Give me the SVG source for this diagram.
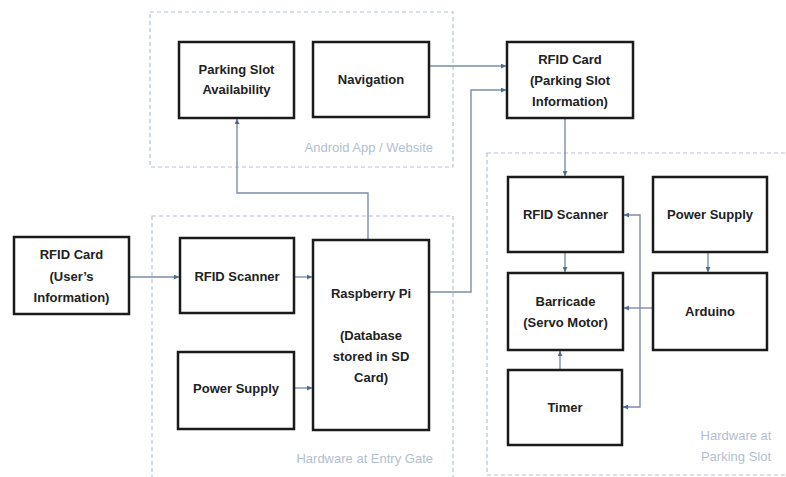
<svg xmlns="http://www.w3.org/2000/svg" width="786" height="477" viewBox="0 0 786 477">
<style>
.grp{fill:none;stroke:#b3c2d8;stroke-width:1.2;stroke-dasharray:4 3}
.glbl{font-family:"Liberation Sans",Arial,sans-serif;font-size:13px;fill:#b2bfd2}
.box{fill:#fff;stroke:#1a1a1a;stroke-width:2.5}
.t{font-family:"Liberation Sans",Arial,sans-serif;font-size:13px;font-weight:bold;fill:#222;text-anchor:middle}
.c{fill:none;stroke:#7b8eab;stroke-width:1.4}
</style>
<defs>
<marker id="ah" viewBox="0 0 10 10" refX="10" refY="5" markerWidth="5" markerHeight="5" orient="auto-start-reverse" markerUnits="userSpaceOnUse">
<path d="M0,0 L10,5 L0,10 z" fill="#4f6a93"/>
</marker>
</defs>
<rect width="786" height="477" fill="#fff"/>
<g id="group-android">
<rect class="grp" x="150" y="12" width="303" height="155"/>
<text class="glbl" x="433" y="152" text-anchor="end">Android App / Website</text>
</g>
<g id="group-entry">
<rect class="grp" x="152" y="216" width="301" height="275"/>
<text class="glbl" x="433" y="463" text-anchor="end">Hardware at Entry Gate</text>
</g>
<g id="group-parking">
<rect class="grp" x="487" y="153" width="310" height="322"/>
<text class="glbl" x="736" y="440" text-anchor="middle">Hardware at</text>
<text class="glbl" x="736" y="461" text-anchor="middle">Parking Slot</text>
</g>
<g id="connectors">
<path class="c" d="M368,240 V193 H237 V119" marker-end="url(#ah)"/>
<path class="c" d="M429,66 H506" marker-end="url(#ah)"/>
<path class="c" d="M429,292 H471 V90 H506" marker-end="url(#ah)"/>
<path class="c" d="M565,118 V176" marker-end="url(#ah)"/>
<path class="c" d="M129,277 H179" marker-end="url(#ah)"/>
<path class="c" d="M294,277 H312" marker-end="url(#ah)"/>
<path class="c" d="M294,388 H312" marker-end="url(#ah)"/>
<path class="c" d="M565,252 V272" marker-end="url(#ah)"/>
<path class="c" d="M560,370 V351" marker-end="url(#ah)"/>
<path class="c" d="M708,252 V272" marker-end="url(#ah)"/>
<path class="c" d="M653,308 H624" marker-end="url(#ah)"/>
<path class="c" d="M640,308 V215 H624" marker-end="url(#ah)"/>
<path class="c" d="M640,308 V407 H623" marker-end="url(#ah)"/>
</g>
<g id="parking-availability">
<rect class="box" x="179" y="42" width="115" height="76"/>
<text class="t" x="236.5" y="74">Parking Slot</text>
<text class="t" x="236.5" y="94">Availability</text>
</g>
<g id="navigation">
<rect class="box" x="313" y="42" width="116" height="75"/>
<text class="t" x="371" y="84">Navigation</text>
</g>
<g id="rfid-card-parking">
<rect class="box" x="507" y="42" width="126" height="76"/>
<text class="t" x="570" y="64">RFID Card</text>
<text class="t" x="570" y="85">(Parking Slot</text>
<text class="t" x="570" y="106">Information)</text>
</g>
<g id="rfid-card-user">
<rect class="box" x="14" y="237" width="115" height="77"/>
<text class="t" x="71.5" y="259">RFID Card</text>
<text class="t" x="71.5" y="281">(User’s</text>
<text class="t" x="71.5" y="302">Information)</text>
</g>
<g id="rfid-scanner-entry">
<rect class="box" x="180" y="238" width="114" height="75"/>
<text class="t" x="237" y="281">RFID Scanner</text>
</g>
<g id="power-supply-entry">
<rect class="box" x="178" y="352" width="116" height="77"/>
<text class="t" x="236" y="393">Power Supply</text>
</g>
<g id="raspberry-pi">
<rect class="box" x="313" y="240" width="116" height="190"/>
<text class="t" x="371" y="298">Raspberry Pi</text>
<text class="t" x="371" y="340">(Database</text>
<text class="t" x="371" y="361">stored in SD</text>
<text class="t" x="371" y="382">Card)</text>
</g>
<g id="rfid-scanner-parking">
<rect class="box" x="508" y="177" width="115" height="75"/>
<text class="t" x="565.5" y="219">RFID Scanner</text>
</g>
<g id="power-supply-parking">
<rect class="box" x="653" y="177" width="114" height="75"/>
<text class="t" x="710" y="219">Power Supply</text>
</g>
<g id="barricade">
<rect class="box" x="508" y="273" width="115" height="77"/>
<text class="t" x="565.5" y="306">Barricade</text>
<text class="t" x="565.5" y="327">(Servo Motor)</text>
</g>
<g id="arduino">
<rect class="box" x="653" y="273" width="114" height="77"/>
<text class="t" x="710" y="316">Arduino</text>
</g>
<g id="timer">
<rect class="box" x="508" y="370" width="114" height="75"/>
<text class="t" x="565" y="412">Timer</text>
</g>
</svg>
